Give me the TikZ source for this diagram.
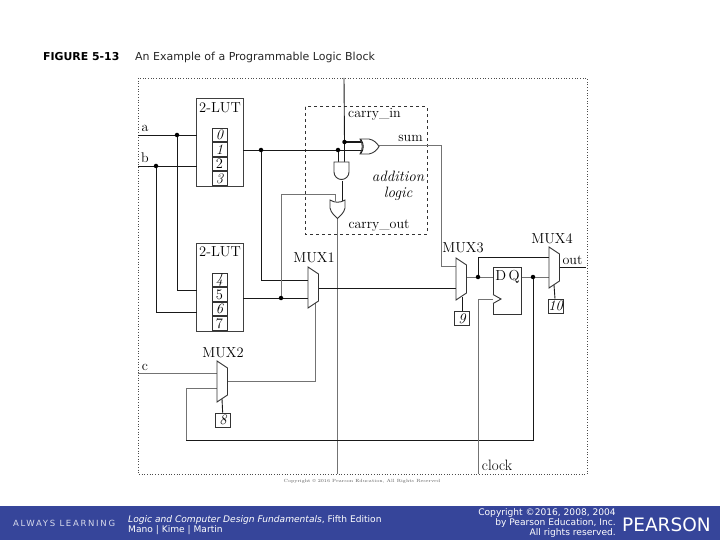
\documentclass[tikz,border=0pt]{standalone}
\usepackage{xcolor}
\usepackage{fontspec}
\usetikzlibrary{positioning, calc}
\newfontfamily\slidefont{DejaVu Sans}
\definecolor{band}{HTML}{36459A}
\tikzset{%
	frame/.style={draw=black!70, dotted, line width=0.7pt},
	lut/.style={draw=black!75, rectangle, minimum width=47pt, minimum height=88pt, inner sep=0pt, line width=0.9pt},
	cell/.style={draw=black!80, rectangle, minimum width=15pt, minimum height=13.7pt, inner sep=0pt, font=\fontsize{14.5}{14.5}\selectfont, line width=0.8pt},
	selbox/.style={cell, minimum height=14pt},
	lbl/.style={inner sep=0pt, font=\fontsize{14}{14}\selectfont, text=black},
	muxlbl/.style={inner sep=0pt, font=\fontsize{14.5}{14.5}\selectfont, text=black},
	connector/.style={draw=black!90, line width=0.9pt},
	greywire/.style={draw=black!55, line width=1pt},
	gate/.style={draw=black!80, line width=0.9pt, fill=white},
	dot/.style={circle, fill=black, inner sep=0pt, minimum size=4.5pt},
	slide/.style={inner sep=0pt, text=white, font=\slidefont\fontsize{9.1}{9.1}\selectfont}
}
% trapezoid: name, left x, top y, height
\newcommand{\muxbox}[4]{%
	\draw[gate] (#2,#3) coordinate (#1-nw) -- (#2+10.5,#3+7) -- (#2+10.5,#3+#4-7) -- (#2,#3+#4) -- cycle;
}
\begin{document}
\begin{tikzpicture}[x=1pt, y=-1pt]
	\useasboundingbox (0,0) rectangle (720,540);
	% heading
	\node[inner sep=0pt, anchor=west, font=\slidefont\bfseries\fontsize{10.9}{10.9}\selectfont] (fig) at (43,57) {FIGURE 5-13};
	\node[inner sep=0pt, anchor=west, font=\slidefont\fontsize{11}{11}\selectfont, text=black!85] (title) at (135,57) {An Example of a Programmable Logic Block};
	\draw[frame] (138,78) rectangle (587,474);
	\draw[black!80, dashed, line width=1pt] (305,107) rectangle (427,234);

	% look-up tables
	\node[lut] (lut1) at (220,142) {};
	\node[lut] (lut2) at (220,287) {};
	\node[muxlbl] at (220,108) {2-LUT};
	\node[muxlbl] at (220,252) {2-LUT};
	\node[cell] (c0) at (219.5,135) {\itshape 0};
	\node[cell, below=0pt of c0] (c1) {\itshape 1};
	\node[cell, below=0pt of c1] (c2) {2};
	\node[cell, below=0pt of c2] (c3) {\itshape 3};
	\node[cell] (c4) at (219.5,280) {\itshape 4};
	\node[cell, below=0pt of c4] (c5) {5};
	\node[cell, below=0pt of c5] (c6) {\itshape 6};
	\node[cell, below=0pt of c6] (c7) {7};

	% named points
	\coordinate (a) at (138,135);
	\coordinate (b) at (138,166);
	\coordinate (c) at (138,373);
	\coordinate (top) at (344,78);
	\coordinate (bot) at (337,474);
	\coordinate (da) at (177,135);
	\coordinate (db) at (156,166);
	\coordinate (d1) at (261,150);
	\coordinate (d2) at (338,150);
	\coordinate (d3) at (344.5,142);
	\coordinate (d4) at (281,298);
	\coordinate (d5) at (478,277);
	\coordinate (d6) at (533,277);
	\coordinate (l1a) at (197,135);
	\coordinate (l1b) at (197,166);
	\coordinate (l2a) at (197,290);
	\coordinate (l2b) at (197,312);
	\coordinate (l1o) at (243,150);
	\coordinate (l2o) at (243,298);
	\coordinate (or1a) at (363,142);
	\coordinate (or1b) at (363,150);
	\coordinate (or1o) at (379,146);
	\coordinate (and1a) at (338,162);
	\coordinate (and1b) at (344.5,162);
	\coordinate (and1o) at (342,181);
	\coordinate (or2a) at (335,201);
	\coordinate (or2b) at (342,201);
	\coordinate (or2o) at (337,218);
	\coordinate (m1a) at (308,280);
	\coordinate (m1b) at (308,298);
	\coordinate (m1o) at (318.5,288);
	\coordinate (m1s) at (315,302);
	\coordinate (m2a) at (217,373);
	\coordinate (m2b) at (217,388);
	\coordinate (m2o) at (227.5,381);
	\coordinate (m3a) at (456,266);
	\coordinate (m3b) at (456,288);
	\coordinate (m3o) at (466.5,277);
	\coordinate (m4a) at (549,257);
	\coordinate (m4b) at (549,277);
	\coordinate (m4o) at (559.5,267);
	\coordinate (outp) at (586,267);
	\coordinate (dffd) at (493,277);
	\coordinate (dffq) at (521,277);
	\coordinate (dffc) at (493,299);
	\coordinate (clk) at (478,474);

	% wires
	\draw[connector] (a) -- (l1a);
	\draw[connector] (b) -- (l1b);
	\draw[connector] (da) |- (l2a);
	\draw[connector] (db) |- (l2b);
	\draw[connector] (l1o) -- (or1b);
	\draw[connector] (d1) |- (m1a);
	\draw[connector] (l2o) -- (m1b);
	\draw[connector] (top) -- (d3);
	\draw[connector, line width=1.4pt] (d3) -- (or1a);
	\draw[connector] (d3) -- (and1b);
	\draw[connector] (d2) -- (and1a);
	\draw[connector] (and1o) -- (or2b);
	\draw[greywire] (d4) |- (335,195) -- (or2a);
	\draw[greywire] (or2o) -- (bot);
	\draw[greywire] (or1o) -- (441,146) -- (441,266) -- (m3a);
	\draw[connector] (m1o) -- (m3b);
	\draw[greywire] (m3o) -- (dffd);
	\draw[connector] (d5) |- (m4a);
	\draw[greywire] (dffq) -- (m4b);
	\draw[connector] (m4o) -- (outp);
	\draw[greywire] (c) -- (m2a);
	\draw[greywire] (m2o) -| (m1s);
	\draw[greywire] (m2b) -| (186,440);
	\draw[connector] (186,440) -| (d6);
	\draw[greywire] (clk) |- (dffc);

	% junction dots
	\node[dot] at (da) {};
	\node[dot] at (db) {};
	\node[dot] at (d1) {};
	\node[dot] at (d2) {};
	\node[dot] at (d3) {};
	\node[dot] at (d4) {};
	\node[dot] at (d5) {};
	\node[dot] at (d6) {};

	% gates
	\draw[gate] (334,162) -- (349,162) -- (349,172) arc[start angle=0, end angle=180, radius=7.5] -- cycle;
	\draw[gate] (330,200) .. controls (335,203) and (340,203) .. (345,200) -- (345,208) .. controls (344,213) and (340,216) .. (337.5,218.5) .. controls (335,216) and (331,213) .. (330,208) -- cycle;
	\draw[gate] (360,139) .. controls (363,144) and (363,149) .. (360,154) -- (369,154) .. controls (374,153) and (377,150) .. (379,146.5) .. controls (377,143) and (374,140) .. (369,139) -- cycle;
	\draw[connector] (361,139.5) .. controls (364,144) and (364,149) .. (361,153.5);
	\muxbox{mux1}{308}{267}{41}
	\muxbox{mux2}{217}{361}{41}
	\muxbox{mux3}{456}{258}{42}
	\muxbox{mux4}{549}{247}{41}

	% flip-flop
	\node[draw=black!80, rectangle, minimum width=28pt, minimum height=47pt, inner sep=0pt, line width=0.9pt, fill=white] (dff) at (507,290.5) {};
	\node[muxlbl] at (507.5,277) {D\,Q};
	\draw[gate] (493,294.5) -- (501,299) -- (493,303.5);

	% select boxes
	\node[selbox] (s8) at (223,420) {\itshape 8};
	\node[selbox] (s9) at (462,318.5) {\itshape 9};
	\node[selbox] (s10) at (555.5,306) {\itshape 10};
	\draw[connector] (222,399) -- (s8);
	\draw[connector] (462,297) -- (s9);
	\draw[connector] (554,285) -- (s10);

	% labels
	\node[lbl] at (145,128) {a};
	\node[lbl] at (145,158) {b};
	\node[lbl] at (145,367) {c};
	\node[lbl] at (374.5,114) {carry\_in};
	\node[lbl] at (410.5,138) {sum};
	\node[lbl, font=\fontsize{15}{15}\selectfont\itshape] at (398,176) {addition};
	\node[lbl, font=\fontsize{15}{15}\selectfont\itshape] at (398,194) {logic};
	\node[lbl] at (379,226) {carry\_out};
	\node[muxlbl] at (314,258) {MUX1};
	\node[muxlbl] at (223,353) {MUX2};
	\node[muxlbl] at (463,248) {MUX3};
	\node[muxlbl] at (552,239) {MUX4};
	\node[lbl] at (572.5,260) {out};
	\node[lbl, font=\fontsize{15}{15}\selectfont] at (497,465) {clock};
	\node[inner sep=0pt, font=\fontsize{4.5}{4.5}\selectfont, text=black!65] at (362,481) {Copyright \copyright{} 2016 Pearson Education, All Rights Reserved};

	% footer
	\fill[band] (0,506) rectangle (720,540);
	\node[slide, anchor=west, font=\slidefont\addfontfeature{LetterSpace=20}\fontsize{8.5}{8.5}\selectfont, text=white!80!band] at (13,523.5) {ALWAYS LEARNING};
	\node[slide, anchor=west] at (128,520) {\textit{Logic and Computer Design Fundamentals}, Fifth Edition};
	\node[slide, anchor=west] at (128,530) {Mano | Kime | Martin};
	\node[slide, anchor=east] at (616,513) {Copyright \textcopyright 2016, 2008, 2004};
	\node[slide, anchor=east] at (616,523) {by Pearson Education, Inc.};
	\node[slide, anchor=east] at (616,533) {All rights reserved.};
	\node[slide, anchor=west, font=\slidefont\fontsize{18.5}{18.5}\selectfont] at (622,524.5) {PEARSON};
\end{tikzpicture}
\end{document}
